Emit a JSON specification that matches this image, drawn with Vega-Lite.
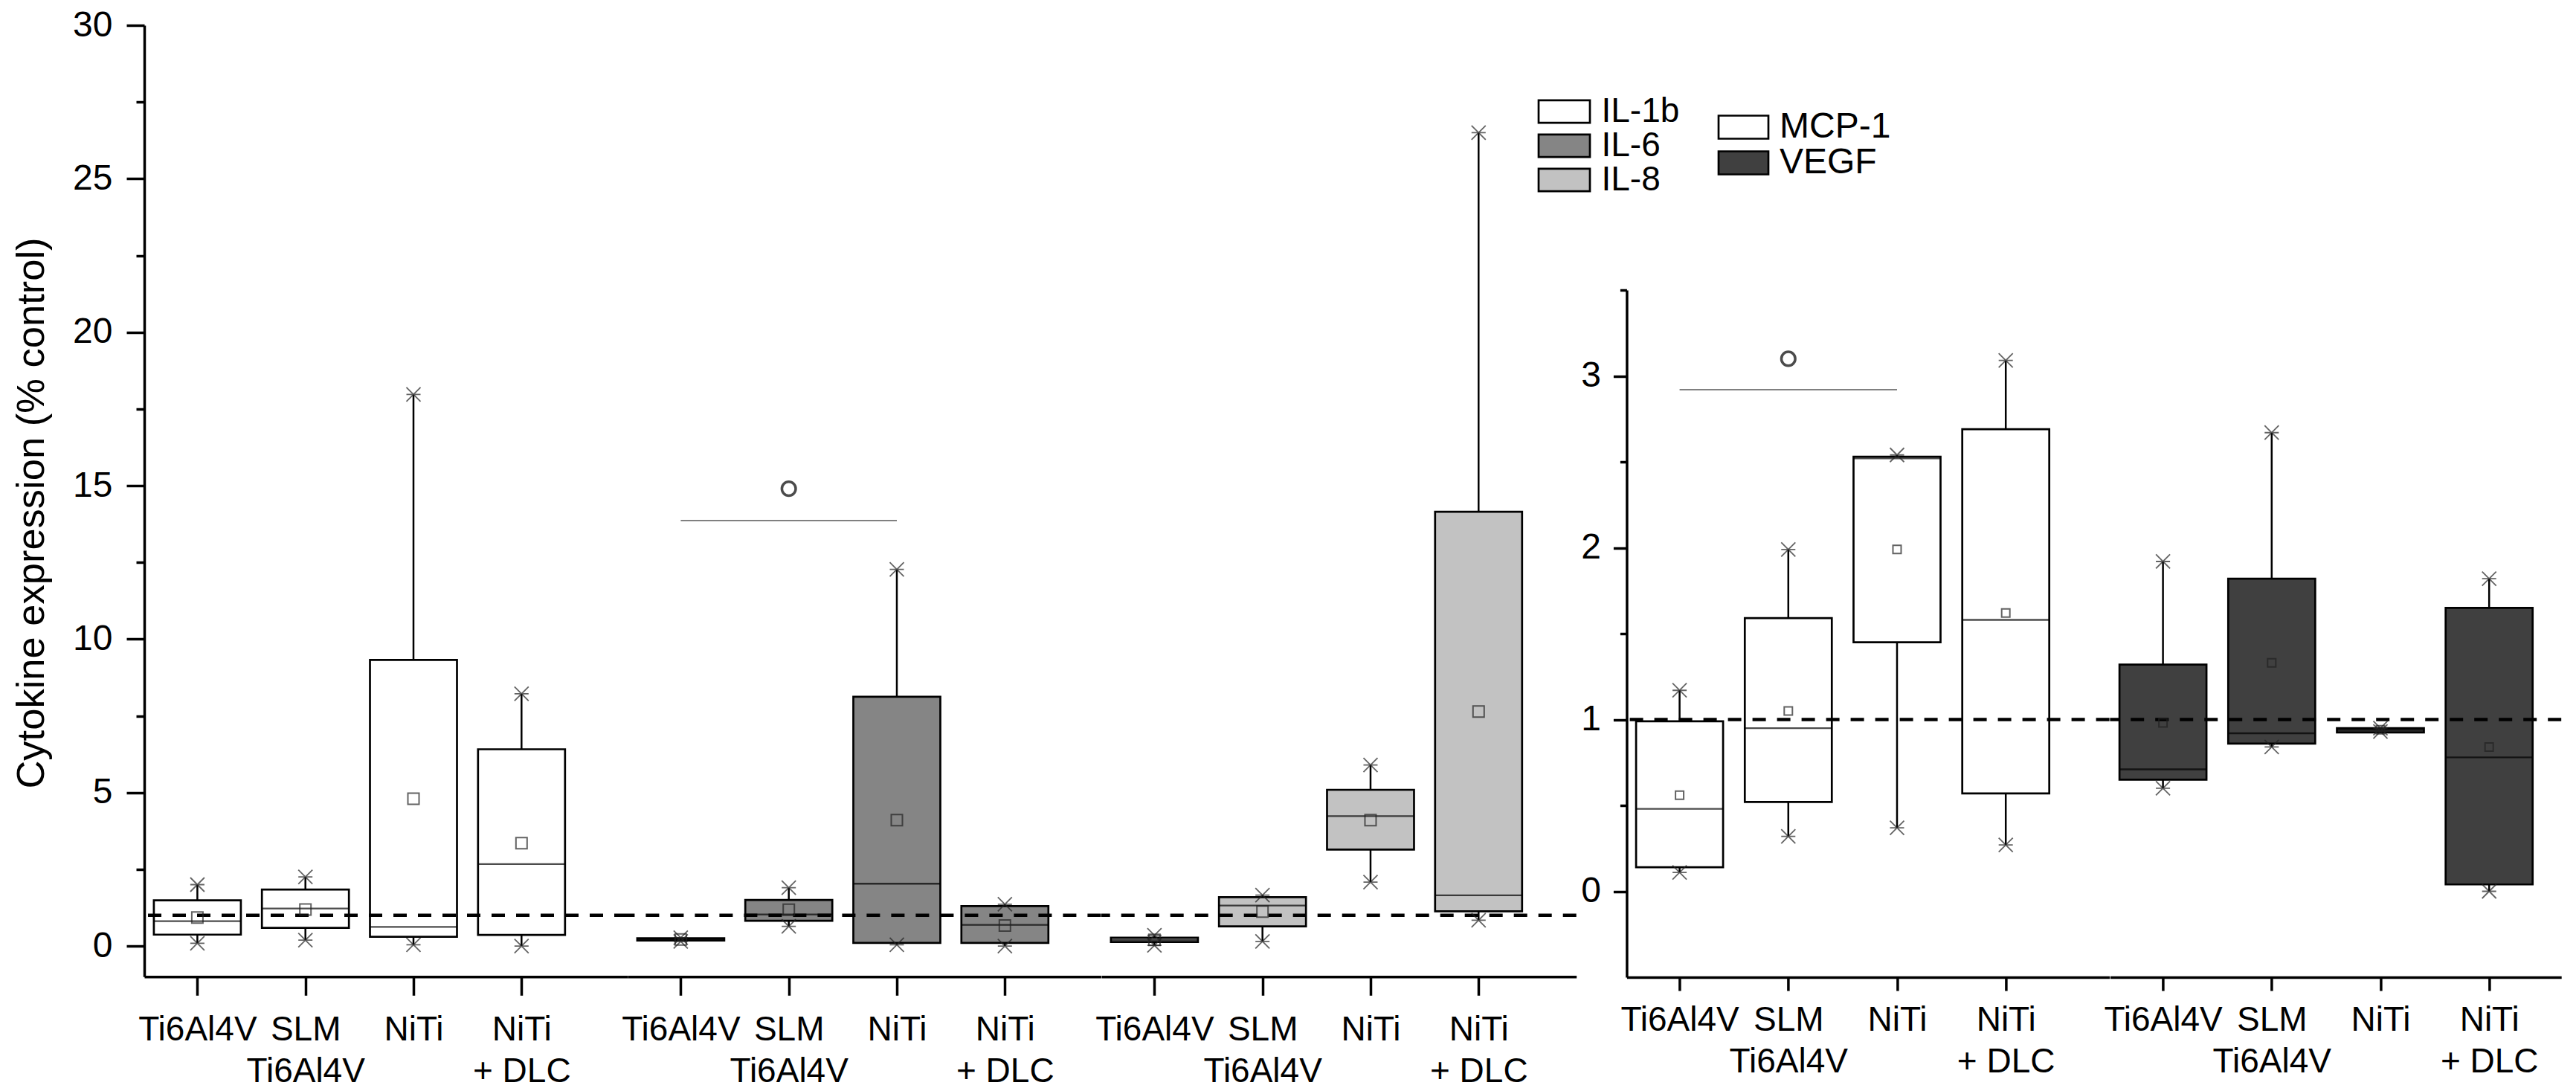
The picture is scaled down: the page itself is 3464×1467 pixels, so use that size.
{
  "$schema": "https://vega.github.io/schema/vega-lite/v6.json",
  "background": "white",
  "padding": {"left": 16, "top": 10, "right": 5, "bottom": 5},
  "autosize": {"type": "pad"},
  "config": {
    "view": {"stroke": null},
    "font": "Liberation Sans",
    "axis": {"labelColor": "black", "domainColor": "black", "tickColor": "black", "grid": false, "labelFont": "Liberation Sans", "titleFont": "Liberation Sans", "titleFontWeight": "normal", "titleColor": "black"},
    "legend": {"labelFont": "Liberation Sans", "labelColor": "black"}
  },
  "datasets": {
    "boxes": [
      {"cytokine": "IL-1b", "material": "Ti6Al4V", "min": 0.09, "q1": 0.37, "median": 0.81, "q3": 1.49, "max": 2.0, "mean": 0.93},
      {"cytokine": "IL-1b", "material": "SLM Ti6Al4V", "min": 0.19, "q1": 0.59, "median": 1.22, "q3": 1.84, "max": 2.25, "mean": 1.19},
      {"cytokine": "IL-1b", "material": "NiTi", "min": 0.04, "q1": 0.30, "median": 0.62, "q3": 9.32, "max": 17.97, "mean": 4.80},
      {"cytokine": "IL-1b", "material": "NiTi + DLC", "min": 0.0, "q1": 0.36, "median": 2.67, "q3": 6.41, "max": 8.22, "mean": 3.35},
      {"cytokine": "IL-6", "material": "Ti6Al4V", "min": 0.15, "q1": 0.18, "median": 0.21, "q3": 0.25, "max": 0.27, "mean": 0.21},
      {"cytokine": "IL-6", "material": "SLM Ti6Al4V", "min": 0.64, "q1": 0.82, "median": 1.03, "q3": 1.50, "max": 1.90, "mean": 1.18},
      {"cytokine": "IL-6", "material": "NiTi", "min": 0.04, "q1": 0.10, "median": 2.03, "q3": 8.12, "max": 12.27, "mean": 4.10},
      {"cytokine": "IL-6", "material": "NiTi + DLC", "min": 0.0, "q1": 0.10, "median": 0.69, "q3": 1.30, "max": 1.36, "mean": 0.67},
      {"cytokine": "IL-8", "material": "Ti6Al4V", "min": 0.02, "q1": 0.13, "median": 0.20, "q3": 0.27, "max": 0.35, "mean": 0.20},
      {"cytokine": "IL-8", "material": "SLM Ti6Al4V", "min": 0.15, "q1": 0.64, "median": 1.32, "q3": 1.59, "max": 1.66, "mean": 1.12},
      {"cytokine": "IL-8", "material": "NiTi", "min": 2.08, "q1": 3.14, "median": 4.23, "q3": 5.09, "max": 5.90, "mean": 4.10},
      {"cytokine": "IL-8", "material": "NiTi + DLC", "min": 0.84, "q1": 1.13, "median": 1.65, "q3": 14.15, "max": 26.5, "mean": 7.64},
      {"cytokine": "MCP-1", "material": "Ti6Al4V", "min": 0.11, "q1": 0.14, "median": 0.48, "q3": 0.99, "max": 1.17, "mean": 0.56},
      {"cytokine": "MCP-1", "material": "SLM Ti6Al4V", "min": 0.32, "q1": 0.52, "median": 0.95, "q3": 1.59, "max": 1.99, "mean": 1.05},
      {"cytokine": "MCP-1", "material": "NiTi", "min": 0.37, "q1": 1.45, "median": 2.52, "q3": 2.53, "max": 2.54, "mean": 1.99},
      {"cytokine": "MCP-1", "material": "NiTi + DLC", "min": 0.27, "q1": 0.57, "median": 1.58, "q3": 2.69, "max": 3.09, "mean": 1.62},
      {"cytokine": "VEGF", "material": "Ti6Al4V", "min": 0.60, "q1": 0.65, "median": 0.71, "q3": 1.32, "max": 1.92, "mean": 0.98},
      {"cytokine": "VEGF", "material": "SLM Ti6Al4V", "min": 0.84, "q1": 0.86, "median": 0.92, "q3": 1.82, "max": 2.67, "mean": 1.33},
      {"cytokine": "VEGF", "material": "NiTi", "min": 0.93, "q1": 0.925, "median": 0.94, "q3": 0.95, "max": 0.95, "mean": 0.94},
      {"cytokine": "VEGF", "material": "NiTi + DLC", "min": 0.0, "q1": 0.04, "median": 0.78, "q3": 1.65, "max": 1.82, "mean": 0.84}
    ]
  },
  "spacing": 3.4,
  "hconcat": [
    {
      "bounds": "flush",
      "spacing": 0,
      "hconcat": [
        {
          "width": 650, "height": 1279.3,
          "data": {"name": "boxes"},
          "transform": [{"filter": "!datum.cytokine || datum.cytokine === 'IL-1b'"}],
          "resolve": {"axis": {"y": "independent"}},
          "layer": [
            {"mark": {"type": "rule", "color": "black", "strokeWidth": 2.5},
             "encoding": {
               "x": {"field": "material", "type": "nominal", "scale": {"type": "point", "domain": ["Ti6Al4V", "SLM Ti6Al4V", "NiTi", "NiTi + DLC"], "padding": 0.7367, "align": 0.3335},
                     "axis": {"title": null, "labelAngle": 0, "labelFontSize": 46, "labelLineHeight": 56, "labelExpr": "datum.value == 'SLM Ti6Al4V' ? split('SLM,Ti6Al4V', ',') : datum.value == 'NiTi + DLC' ? split('NiTi,+ DLC', ',') : datum.label", "tickSize": 25, "tickWidth": 3.5, "domainWidth": 3.5, "labelPadding": 24, "labelOverlap": false}},
               "y": {"field": "min", "type": "quantitative", "scale": {"domain": [-1, 30], "nice": false, "zero": false},
                     "axis": {"orient": "left", "title": "Cytokine expression (% control)", "values": [0, 5, 10, 15, 20, 25, 30], "tickSize": 24, "tickWidth": 3.5, "domainWidth": 3.5, "labelFontSize": 48, "labelPadding": 19, "titleFontSize": 52.5, "titlePadding": 28, "titleY": 655.5, "labelFlush": false, "labelOverlap": false}},
               "y2": {"field": "max"}}},
            {"mark": {"type": "bar", "width": 117, "stroke": "black", "strokeWidth": 2.7},
             "encoding": {
               "x": {"field": "material", "type": "nominal", "scale": {"type": "point", "domain": ["Ti6Al4V", "SLM Ti6Al4V", "NiTi", "NiTi + DLC"], "padding": 0.7367, "align": 0.3335}},
               "y": {"field": "q1", "type": "quantitative", "scale": {"domain": [-1, 30], "nice": false, "zero": false}, "axis": null},
               "y2": {"field": "q3"},
               "fill": {"field": "cytokine", "type": "nominal", "scale": {"domain": ["IL-1b", "IL-6", "IL-8"], "range": ["#ffffff", "#858585", "#c2c2c2"]},
                        "legend": {"title": null, "orient": "none", "legendX": 1886.5, "legendY": 93, "direction": "vertical", "symbolType": "M-6.9,-3.04H6.9V3.04H-6.9Z", "symbolSize": 100, "symbolStrokeColor": "black", "symbolStrokeWidth": 2.7, "symbolOpacity": 1, "labelFontSize": 46, "labelOffset": 27, "rowPadding": -6.5, "padding": 0}}}},
            {"mark": {"type": "tick", "orient": "horizontal", "size": 117, "thickness": 2.3, "color": "black"},
             "encoding": {
               "x": {"field": "material", "type": "nominal", "scale": {"type": "point", "domain": ["Ti6Al4V", "SLM Ti6Al4V", "NiTi", "NiTi + DLC"], "padding": 0.7367, "align": 0.3335}},
               "y": {"field": "median", "type": "quantitative", "scale": {"domain": [-1, 30], "nice": false, "zero": false}, "axis": null}}},
            {"data": {"values": [{"level": 1}]},
             "mark": {"type": "rule", "color": "black", "strokeWidth": 4.5, "strokeDash": [18, 15]},
             "encoding": {"y": {"field": "level", "type": "quantitative", "scale": {"domain": [-1, 30], "nice": false, "zero": false},
                                "axis": {"orient": "left", "title": null, "values": [2.5, 7.5, 12.5, 17.5, 22.5, 27.5], "labels": false, "domain": false, "tickSize": 11, "tickWidth": 3.5}}}},
            {"mark": {"type": "point", "shape": "square", "filled": false, "size": 225, "color": "#222222", "strokeWidth": 2},
             "encoding": {
               "x": {"field": "material", "type": "nominal", "scale": {"type": "point", "domain": ["Ti6Al4V", "SLM Ti6Al4V", "NiTi", "NiTi + DLC"], "padding": 0.7367, "align": 0.3335}},
               "y": {"field": "mean", "type": "quantitative", "scale": {"domain": [-1, 30], "nice": false, "zero": false}, "axis": null}}},
            {"mark": {"type": "point", "shape": "M-1,-1L1,1M-1,1L1,-1M-1,0L1,0", "filled": false, "size": 361, "color": "#222222", "strokeWidth": 1.8},
             "encoding": {
               "x": {"field": "material", "type": "nominal", "scale": {"type": "point", "domain": ["Ti6Al4V", "SLM Ti6Al4V", "NiTi", "NiTi + DLC"], "padding": 0.7367, "align": 0.3335}},
               "y": {"field": "min", "type": "quantitative", "scale": {"domain": [-1, 30], "nice": false, "zero": false}, "axis": null}}},
            {"mark": {"type": "point", "shape": "M-1,-1L1,1M-1,1L1,-1M-1,0L1,0", "filled": false, "size": 361, "color": "#222222", "strokeWidth": 1.8},
             "encoding": {
               "x": {"field": "material", "type": "nominal", "scale": {"type": "point", "domain": ["Ti6Al4V", "SLM Ti6Al4V", "NiTi", "NiTi + DLC"], "padding": 0.7367, "align": 0.3335}},
               "y": {"field": "max", "type": "quantitative", "scale": {"domain": [-1, 30], "nice": false, "zero": false}, "axis": null}}}
          ]
        },
        {
          "width": 636.4, "height": 1279.3,
          "data": {"name": "boxes"},
          "transform": [{"filter": "!datum.cytokine || datum.cytokine === 'IL-6'"}],
          "layer": [
            {"mark": {"type": "rule", "color": "black", "strokeWidth": 2.5},
             "encoding": {
               "x": {"field": "material", "type": "nominal", "scale": {"type": "point", "domain": ["Ti6Al4V", "SLM Ti6Al4V", "NiTi", "NiTi + DLC"], "padding": 0.69, "align": 0.3561},
                     "axis": {"title": null, "labelAngle": 0, "labelFontSize": 46, "labelLineHeight": 56, "labelExpr": "datum.value == 'SLM Ti6Al4V' ? split('SLM,Ti6Al4V', ',') : datum.value == 'NiTi + DLC' ? split('NiTi,+ DLC', ',') : datum.label", "tickSize": 25, "tickWidth": 3.5, "domainWidth": 3.5, "labelPadding": 24, "labelOverlap": false}},
               "y": {"field": "min", "type": "quantitative", "scale": {"domain": [-1, 30], "nice": false, "zero": false}, "axis": null},
               "y2": {"field": "max"}}},
            {"mark": {"type": "bar", "width": 117, "stroke": "black", "strokeWidth": 2.7},
             "encoding": {
               "x": {"field": "material", "type": "nominal", "scale": {"type": "point", "domain": ["Ti6Al4V", "SLM Ti6Al4V", "NiTi", "NiTi + DLC"], "padding": 0.69, "align": 0.3561}},
               "y": {"field": "q1", "type": "quantitative", "scale": {"domain": [-1, 30], "nice": false, "zero": false}, "axis": null},
               "y2": {"field": "q3"},
               "fill": {"field": "cytokine", "type": "nominal", "scale": {"domain": ["IL-1b", "IL-6", "IL-8"], "range": ["#ffffff", "#858585", "#c2c2c2"]},
                        "legend": {"title": null, "orient": "none", "legendX": 1886.5, "legendY": 93, "direction": "vertical", "symbolType": "M-6.9,-3.04H6.9V3.04H-6.9Z", "symbolSize": 100, "symbolStrokeColor": "black", "symbolStrokeWidth": 2.7, "symbolOpacity": 1, "labelFontSize": 46, "labelOffset": 27, "rowPadding": -6.5, "padding": 0}}}},
            {"mark": {"type": "tick", "orient": "horizontal", "size": 117, "thickness": 2.3, "color": "black"},
             "encoding": {
               "x": {"field": "material", "type": "nominal", "scale": {"type": "point", "domain": ["Ti6Al4V", "SLM Ti6Al4V", "NiTi", "NiTi + DLC"], "padding": 0.69, "align": 0.3561}},
               "y": {"field": "median", "type": "quantitative", "scale": {"domain": [-1, 30], "nice": false, "zero": false}, "axis": null}}},
            {"data": {"values": [{"level": 1}]},
             "mark": {"type": "rule", "color": "black", "strokeWidth": 4.5, "strokeDash": [18, 15]},
             "encoding": {"y": {"field": "level", "type": "quantitative", "scale": {"domain": [-1, 30], "nice": false, "zero": false}, "axis": null}}},
            {"mark": {"type": "point", "shape": "square", "filled": false, "size": 225, "color": "#222222", "strokeWidth": 2},
             "encoding": {
               "x": {"field": "material", "type": "nominal", "scale": {"type": "point", "domain": ["Ti6Al4V", "SLM Ti6Al4V", "NiTi", "NiTi + DLC"], "padding": 0.69, "align": 0.3561}},
               "y": {"field": "mean", "type": "quantitative", "scale": {"domain": [-1, 30], "nice": false, "zero": false}, "axis": null}}},
            {"mark": {"type": "point", "shape": "M-1,-1L1,1M-1,1L1,-1M-1,0L1,0", "filled": false, "size": 361, "color": "#222222", "strokeWidth": 1.8},
             "encoding": {
               "x": {"field": "material", "type": "nominal", "scale": {"type": "point", "domain": ["Ti6Al4V", "SLM Ti6Al4V", "NiTi", "NiTi + DLC"], "padding": 0.69, "align": 0.3561}},
               "y": {"field": "min", "type": "quantitative", "scale": {"domain": [-1, 30], "nice": false, "zero": false}, "axis": null}}},
            {"mark": {"type": "point", "shape": "M-1,-1L1,1M-1,1L1,-1M-1,0L1,0", "filled": false, "size": 361, "color": "#222222", "strokeWidth": 1.8},
             "encoding": {
               "x": {"field": "material", "type": "nominal", "scale": {"type": "point", "domain": ["Ti6Al4V", "SLM Ti6Al4V", "NiTi", "NiTi + DLC"], "padding": 0.69, "align": 0.3561}},
               "y": {"field": "max", "type": "quantitative", "scale": {"domain": [-1, 30], "nice": false, "zero": false}, "axis": null}}},
            {"data": {"values": [{"from": "Ti6Al4V", "to": "NiTi", "mid": "SLM Ti6Al4V", "bar": 13.86, "mark": 14.9}]},
             "mark": {"type": "rule", "color": "#808080", "strokeWidth": 2},
             "encoding": {
               "x": {"field": "from", "type": "nominal", "scale": {"type": "point", "domain": ["Ti6Al4V", "SLM Ti6Al4V", "NiTi", "NiTi + DLC"], "padding": 0.69, "align": 0.3561}},
               "x2": {"field": "to"},
               "y": {"field": "bar", "type": "quantitative", "scale": {"domain": [-1, 30], "nice": false, "zero": false}, "axis": null}}},
            {"data": {"values": [{"from": "Ti6Al4V", "to": "NiTi", "mid": "SLM Ti6Al4V", "bar": 13.86, "mark": 14.9}]},
             "mark": {"type": "point", "shape": "circle", "filled": false, "size": 346, "color": "black", "strokeWidth": 3.5},
             "encoding": {
               "x": {"field": "mid", "type": "nominal", "scale": {"type": "point", "domain": ["Ti6Al4V", "SLM Ti6Al4V", "NiTi", "NiTi + DLC"], "padding": 0.69, "align": 0.3561}},
               "y": {"field": "mark", "type": "quantitative", "scale": {"domain": [-1, 30], "nice": false, "zero": false}, "axis": null}}}
          ]
        },
        {
          "width": 638.7, "height": 1279.3,
          "data": {"name": "boxes"},
          "transform": [{"filter": "!datum.cytokine || datum.cytokine === 'IL-8'"}],
          "layer": [
            {"mark": {"type": "rule", "color": "black", "strokeWidth": 2.5},
             "encoding": {
               "x": {"field": "material", "type": "nominal", "scale": {"type": "point", "domain": ["Ti6Al4V", "SLM Ti6Al4V", "NiTi", "NiTi + DLC"], "padding": 0.6979, "align": 0.352},
                     "axis": {"title": null, "labelAngle": 0, "labelFontSize": 46, "labelLineHeight": 56, "labelExpr": "datum.value == 'SLM Ti6Al4V' ? split('SLM,Ti6Al4V', ',') : datum.value == 'NiTi + DLC' ? split('NiTi,+ DLC', ',') : datum.label", "tickSize": 25, "tickWidth": 3.5, "domainWidth": 3.5, "labelPadding": 24, "labelOverlap": false}},
               "y": {"field": "min", "type": "quantitative", "scale": {"domain": [-1, 30], "nice": false, "zero": false}, "axis": null},
               "y2": {"field": "max"}}},
            {"mark": {"type": "bar", "width": 117, "stroke": "black", "strokeWidth": 2.7},
             "encoding": {
               "x": {"field": "material", "type": "nominal", "scale": {"type": "point", "domain": ["Ti6Al4V", "SLM Ti6Al4V", "NiTi", "NiTi + DLC"], "padding": 0.6979, "align": 0.352}},
               "y": {"field": "q1", "type": "quantitative", "scale": {"domain": [-1, 30], "nice": false, "zero": false}, "axis": null},
               "y2": {"field": "q3"},
               "fill": {"field": "cytokine", "type": "nominal", "scale": {"domain": ["IL-1b", "IL-6", "IL-8"], "range": ["#ffffff", "#858585", "#c2c2c2"]},
                        "legend": {"title": null, "orient": "none", "legendX": 1886.5, "legendY": 93, "direction": "vertical", "symbolType": "M-6.9,-3.04H6.9V3.04H-6.9Z", "symbolSize": 100, "symbolStrokeColor": "black", "symbolStrokeWidth": 2.7, "symbolOpacity": 1, "labelFontSize": 46, "labelOffset": 27, "rowPadding": -6.5, "padding": 0}}}},
            {"mark": {"type": "tick", "orient": "horizontal", "size": 117, "thickness": 2.3, "color": "black"},
             "encoding": {
               "x": {"field": "material", "type": "nominal", "scale": {"type": "point", "domain": ["Ti6Al4V", "SLM Ti6Al4V", "NiTi", "NiTi + DLC"], "padding": 0.6979, "align": 0.352}},
               "y": {"field": "median", "type": "quantitative", "scale": {"domain": [-1, 30], "nice": false, "zero": false}, "axis": null}}},
            {"data": {"values": [{"level": 1}]},
             "mark": {"type": "rule", "color": "black", "strokeWidth": 4.5, "strokeDash": [18, 15]},
             "encoding": {"y": {"field": "level", "type": "quantitative", "scale": {"domain": [-1, 30], "nice": false, "zero": false}, "axis": null}}},
            {"mark": {"type": "point", "shape": "square", "filled": false, "size": 225, "color": "#222222", "strokeWidth": 2},
             "encoding": {
               "x": {"field": "material", "type": "nominal", "scale": {"type": "point", "domain": ["Ti6Al4V", "SLM Ti6Al4V", "NiTi", "NiTi + DLC"], "padding": 0.6979, "align": 0.352}},
               "y": {"field": "mean", "type": "quantitative", "scale": {"domain": [-1, 30], "nice": false, "zero": false}, "axis": null}}},
            {"mark": {"type": "point", "shape": "M-1,-1L1,1M-1,1L1,-1M-1,0L1,0", "filled": false, "size": 361, "color": "#222222", "strokeWidth": 1.8},
             "encoding": {
               "x": {"field": "material", "type": "nominal", "scale": {"type": "point", "domain": ["Ti6Al4V", "SLM Ti6Al4V", "NiTi", "NiTi + DLC"], "padding": 0.6979, "align": 0.352}},
               "y": {"field": "min", "type": "quantitative", "scale": {"domain": [-1, 30], "nice": false, "zero": false}, "axis": null}}},
            {"mark": {"type": "point", "shape": "M-1,-1L1,1M-1,1L1,-1M-1,0L1,0", "filled": false, "size": 361, "color": "#222222", "strokeWidth": 1.8},
             "encoding": {
               "x": {"field": "material", "type": "nominal", "scale": {"type": "point", "domain": ["Ti6Al4V", "SLM Ti6Al4V", "NiTi", "NiTi + DLC"], "padding": 0.6979, "align": 0.352}},
               "y": {"field": "max", "type": "quantitative", "scale": {"domain": [-1, 30], "nice": false, "zero": false}, "axis": null}}}
          ]
        }
      ]
    },
    {
      "bounds": "flush",
      "spacing": 0,
      "vconcat": [
        {"width": 1256, "height": 355.5, "data": {"values": [{"level": 1}]}, "mark": {"type": "point", "opacity": 0}},
        {
          "bounds": "flush",
          "spacing": 0,
          "hconcat": [
            {
              "width": 649.2, "height": 924,
              "data": {"name": "boxes"},
              "transform": [{"filter": "!datum.cytokine || datum.cytokine === 'MCP-1'"}],
              "resolve": {"axis": {"y": "independent"}},
              "layer": [
                {"mark": {"type": "rule", "color": "black", "strokeWidth": 2.5},
                 "encoding": {
                   "x": {"field": "material", "type": "nominal", "scale": {"type": "point", "domain": ["Ti6Al4V", "SLM Ti6Al4V", "NiTi", "NiTi + DLC"], "padding": 0.7202, "align": 0.338},
                         "axis": {"title": null, "labelAngle": 0, "labelFontSize": 46, "labelLineHeight": 56, "labelExpr": "datum.value == 'SLM Ti6Al4V' ? split('SLM,Ti6Al4V', ',') : datum.value == 'NiTi + DLC' ? split('NiTi,+ DLC', ',') : datum.label", "tickSize": 18, "tickWidth": 3.5, "domainWidth": 3.5, "labelPadding": 17, "labelOverlap": false}},
                   "y": {"field": "min", "type": "quantitative", "scale": {"domain": [-0.5, 3.5], "nice": false, "zero": false},
                         "axis": {"orient": "left", "title": null, "values": [0, 1, 2, 3], "tickSize": 18, "tickWidth": 3.5, "domainWidth": 3.5, "labelFontSize": 48, "labelPadding": 17, "labelFlush": false, "labelOverlap": false}},
                   "y2": {"field": "max"}}},
                {"mark": {"type": "bar", "width": 117, "stroke": "black", "strokeWidth": 2.7},
                 "encoding": {
                   "x": {"field": "material", "type": "nominal", "scale": {"type": "point", "domain": ["Ti6Al4V", "SLM Ti6Al4V", "NiTi", "NiTi + DLC"], "padding": 0.7202, "align": 0.338}},
                   "y": {"field": "q1", "type": "quantitative", "scale": {"domain": [-0.5, 3.5], "nice": false, "zero": false}, "axis": null},
                   "y2": {"field": "q3"},
                   "color": {"field": "cytokine", "type": "nominal", "scale": {"domain": ["MCP-1", "VEGF"], "range": ["#ffffff", "#404040"]},
                            "legend": {"title": null, "orient": "none", "legendX": 2126.5, "legendY": 113, "direction": "vertical", "symbolType": "M-6.7,-3.1H6.7V3.1H-6.7Z", "symbolSize": 100, "symbolStrokeColor": "black", "symbolStrokeWidth": 2.7, "symbolOpacity": 1, "labelFontSize": 48, "labelOffset": 24.5, "rowPadding": -5, "padding": 0}}}},
                {"mark": {"type": "tick", "orient": "horizontal", "size": 117, "thickness": 2.3, "color": "black"},
                 "encoding": {
                   "x": {"field": "material", "type": "nominal", "scale": {"type": "point", "domain": ["Ti6Al4V", "SLM Ti6Al4V", "NiTi", "NiTi + DLC"], "padding": 0.7202, "align": 0.338}},
                   "y": {"field": "median", "type": "quantitative", "scale": {"domain": [-0.5, 3.5], "nice": false, "zero": false}, "axis": null}}},
                {"data": {"values": [{"level": 1}]},
                 "mark": {"type": "rule", "color": "black", "strokeWidth": 4.5, "strokeDash": [18, 15]},
                 "encoding": {"y": {"field": "level", "type": "quantitative", "scale": {"domain": [-0.5, 3.5], "nice": false, "zero": false},
                                    "axis": {"orient": "left", "title": null, "values": [0.5, 1.5, 2.5, 3.5], "labels": false, "domain": false, "tickSize": 9, "tickWidth": 3.5}}}},
                {"mark": {"type": "point", "shape": "square", "filled": false, "size": 121, "color": "#222222", "strokeWidth": 2},
                 "encoding": {
                   "x": {"field": "material", "type": "nominal", "scale": {"type": "point", "domain": ["Ti6Al4V", "SLM Ti6Al4V", "NiTi", "NiTi + DLC"], "padding": 0.7202, "align": 0.338}},
                   "y": {"field": "mean", "type": "quantitative", "scale": {"domain": [-0.5, 3.5], "nice": false, "zero": false}, "axis": null}}},
                {"mark": {"type": "point", "shape": "M-1,-1L1,1M-1,1L1,-1M-1,0L1,0", "filled": false, "size": 361, "color": "#222222", "strokeWidth": 1.8},
                 "encoding": {
                   "x": {"field": "material", "type": "nominal", "scale": {"type": "point", "domain": ["Ti6Al4V", "SLM Ti6Al4V", "NiTi", "NiTi + DLC"], "padding": 0.7202, "align": 0.338}},
                   "y": {"field": "min", "type": "quantitative", "scale": {"domain": [-0.5, 3.5], "nice": false, "zero": false}, "axis": null}}},
                {"mark": {"type": "point", "shape": "M-1,-1L1,1M-1,1L1,-1M-1,0L1,0", "filled": false, "size": 361, "color": "#222222", "strokeWidth": 1.8},
                 "encoding": {
                   "x": {"field": "material", "type": "nominal", "scale": {"type": "point", "domain": ["Ti6Al4V", "SLM Ti6Al4V", "NiTi", "NiTi + DLC"], "padding": 0.7202, "align": 0.338}},
                   "y": {"field": "max", "type": "quantitative", "scale": {"domain": [-0.5, 3.5], "nice": false, "zero": false}, "axis": null}}},
                {"data": {"values": [{"from": "Ti6Al4V", "to": "NiTi", "mid": "SLM Ti6Al4V", "bar": 2.92, "mark": 3.1}]},
                 "mark": {"type": "rule", "color": "#808080", "strokeWidth": 2},
                 "encoding": {
                   "x": {"field": "from", "type": "nominal", "scale": {"type": "point", "domain": ["Ti6Al4V", "SLM Ti6Al4V", "NiTi", "NiTi + DLC"], "padding": 0.7202, "align": 0.338}},
                   "x2": {"field": "to"},
                   "y": {"field": "bar", "type": "quantitative", "scale": {"domain": [-0.5, 3.5], "nice": false, "zero": false}, "axis": null}}},
                {"data": {"values": [{"from": "Ti6Al4V", "to": "NiTi", "mid": "SLM Ti6Al4V", "bar": 2.92, "mark": 3.1}]},
                 "mark": {"type": "point", "shape": "circle", "filled": false, "size": 346, "color": "black", "strokeWidth": 3.5},
                 "encoding": {
                   "x": {"field": "mid", "type": "nominal", "scale": {"type": "point", "domain": ["Ti6Al4V", "SLM Ti6Al4V", "NiTi", "NiTi + DLC"], "padding": 0.7202, "align": 0.338}},
                   "y": {"field": "mark", "type": "quantitative", "scale": {"domain": [-0.5, 3.5], "nice": false, "zero": false}, "axis": null}}}
              ]
            },
            {
              "width": 606.8, "height": 924,
              "data": {"name": "boxes"},
              "transform": [{"filter": "!datum.cytokine || datum.cytokine === 'VEGF'"}],
              "layer": [
                {"mark": {"type": "rule", "color": "black", "strokeWidth": 2.5},
                 "encoding": {
                   "x": {"field": "material", "type": "nominal", "scale": {"type": "point", "domain": ["Ti6Al4V", "SLM Ti6Al4V", "NiTi", "NiTi + DLC"], "padding": 0.5752, "align": 0.4233},
                         "axis": {"title": null, "labelAngle": 0, "labelFontSize": 46, "labelLineHeight": 56, "labelExpr": "datum.value == 'SLM Ti6Al4V' ? split('SLM,Ti6Al4V', ',') : datum.value == 'NiTi + DLC' ? split('NiTi,+ DLC', ',') : datum.label", "tickSize": 18, "tickWidth": 3.5, "domainWidth": 3.5, "labelPadding": 17, "labelOverlap": false}},
                   "y": {"field": "min", "type": "quantitative", "scale": {"domain": [-0.5, 3.5], "nice": false, "zero": false}, "axis": null},
                   "y2": {"field": "max"}}},
                {"mark": {"type": "bar", "width": 117, "stroke": "black", "strokeWidth": 2.7},
                 "encoding": {
                   "x": {"field": "material", "type": "nominal", "scale": {"type": "point", "domain": ["Ti6Al4V", "SLM Ti6Al4V", "NiTi", "NiTi + DLC"], "padding": 0.5752, "align": 0.4233}},
                   "y": {"field": "q1", "type": "quantitative", "scale": {"domain": [-0.5, 3.5], "nice": false, "zero": false}, "axis": null},
                   "y2": {"field": "q3"},
                   "color": {"field": "cytokine", "type": "nominal", "scale": {"domain": ["MCP-1", "VEGF"], "range": ["#ffffff", "#404040"]},
                            "legend": {"title": null, "orient": "none", "legendX": 2126.5, "legendY": 113, "direction": "vertical", "symbolType": "M-6.7,-3.1H6.7V3.1H-6.7Z", "symbolSize": 100, "symbolStrokeColor": "black", "symbolStrokeWidth": 2.7, "symbolOpacity": 1, "labelFontSize": 48, "labelOffset": 24.5, "rowPadding": -5, "padding": 0}}}},
                {"mark": {"type": "tick", "orient": "horizontal", "size": 117, "thickness": 2.3, "color": "black"},
                 "encoding": {
                   "x": {"field": "material", "type": "nominal", "scale": {"type": "point", "domain": ["Ti6Al4V", "SLM Ti6Al4V", "NiTi", "NiTi + DLC"], "padding": 0.5752, "align": 0.4233}},
                   "y": {"field": "median", "type": "quantitative", "scale": {"domain": [-0.5, 3.5], "nice": false, "zero": false}, "axis": null}}},
                {"data": {"values": [{"level": 1}]},
                 "mark": {"type": "rule", "color": "black", "strokeWidth": 4.5, "strokeDash": [18, 15]},
                 "encoding": {"y": {"field": "level", "type": "quantitative", "scale": {"domain": [-0.5, 3.5], "nice": false, "zero": false}, "axis": null}}},
                {"mark": {"type": "point", "shape": "square", "filled": false, "size": 121, "color": "#222222", "strokeWidth": 2},
                 "encoding": {
                   "x": {"field": "material", "type": "nominal", "scale": {"type": "point", "domain": ["Ti6Al4V", "SLM Ti6Al4V", "NiTi", "NiTi + DLC"], "padding": 0.5752, "align": 0.4233}},
                   "y": {"field": "mean", "type": "quantitative", "scale": {"domain": [-0.5, 3.5], "nice": false, "zero": false}, "axis": null}}},
                {"mark": {"type": "point", "shape": "M-1,-1L1,1M-1,1L1,-1M-1,0L1,0", "filled": false, "size": 361, "color": "#222222", "strokeWidth": 1.8},
                 "encoding": {
                   "x": {"field": "material", "type": "nominal", "scale": {"type": "point", "domain": ["Ti6Al4V", "SLM Ti6Al4V", "NiTi", "NiTi + DLC"], "padding": 0.5752, "align": 0.4233}},
                   "y": {"field": "min", "type": "quantitative", "scale": {"domain": [-0.5, 3.5], "nice": false, "zero": false}, "axis": null}}},
                {"mark": {"type": "point", "shape": "M-1,-1L1,1M-1,1L1,-1M-1,0L1,0", "filled": false, "size": 361, "color": "#222222", "strokeWidth": 1.8},
                 "encoding": {
                   "x": {"field": "material", "type": "nominal", "scale": {"type": "point", "domain": ["Ti6Al4V", "SLM Ti6Al4V", "NiTi", "NiTi + DLC"], "padding": 0.5752, "align": 0.4233}},
                   "y": {"field": "max", "type": "quantitative", "scale": {"domain": [-0.5, 3.5], "nice": false, "zero": false}, "axis": null}}}
              ]
            }
          ]
        }
      ]
    }
  ]
}
